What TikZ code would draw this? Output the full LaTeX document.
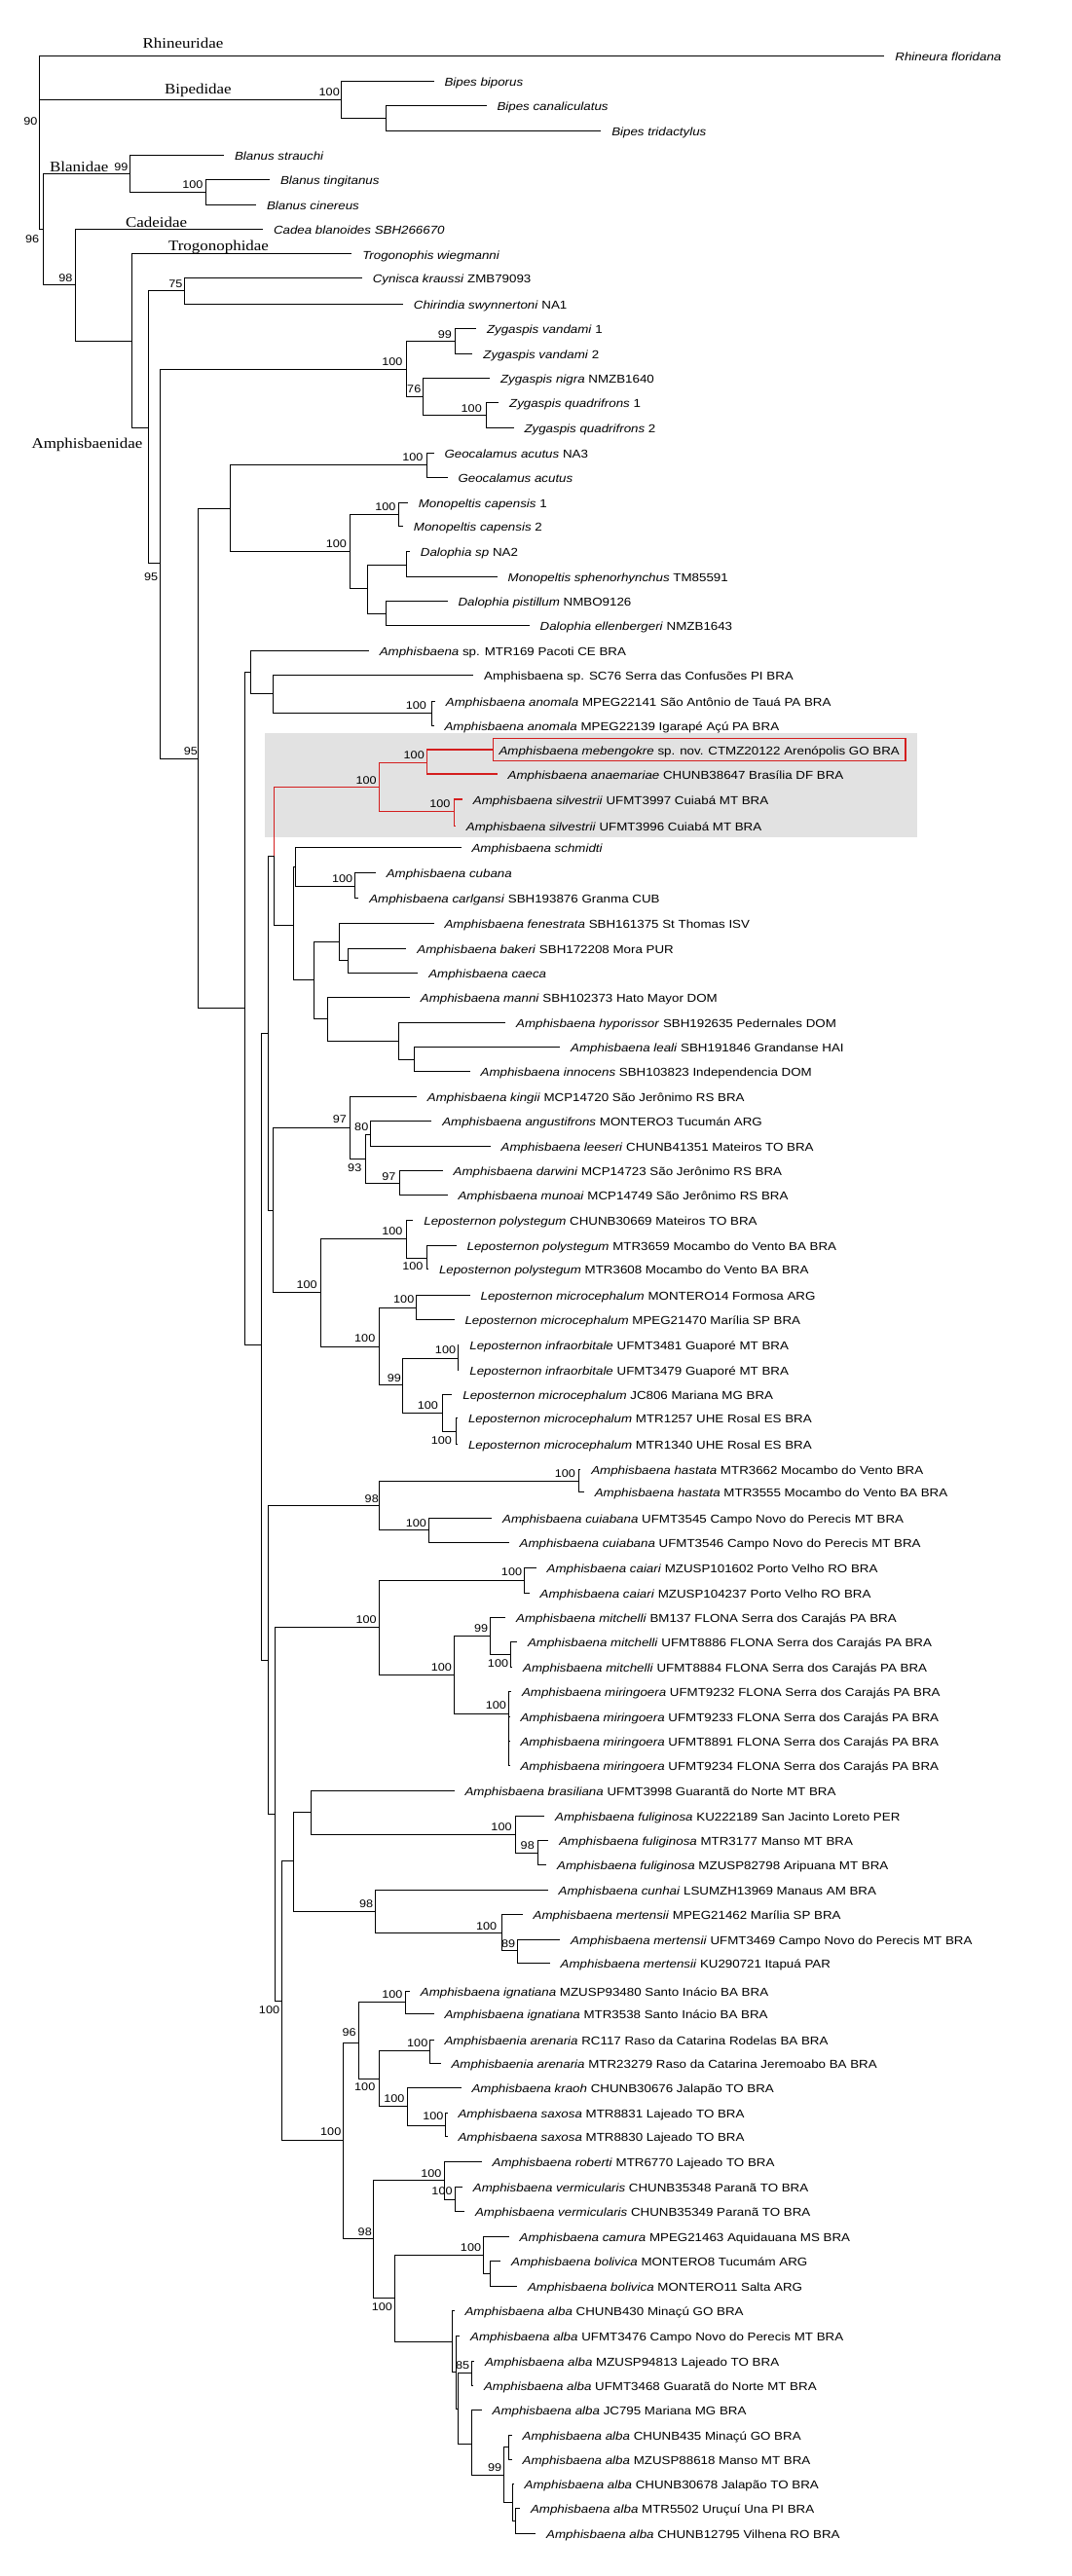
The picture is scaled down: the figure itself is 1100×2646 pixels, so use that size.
\documentclass[tikz,border=0pt]{standalone}
\usepackage{fontspec}
\setmainfont{Liberation Sans}[FakeStretch=1.13]
\newfontfamily\famfont{Liberation Serif}[FakeStretch=1.13]
\definecolor{cladered}{RGB}{212,30,30}
\definecolor{boxgray}{RGB}{226,226,226}
\tikzset{
  leaf/.style={anchor=west, inner sep=0pt, outer xsep=11pt, text height=10.5pt, text depth=0pt, font=\fontsize{11.8}{13}\selectfont},
  newsp/.style={draw=cladered, line width=1.3pt, inner xsep=6pt, inner ysep=6.25pt, outer xsep=0pt},
  boot/.style={anchor=east, inner sep=0pt, font=\fontsize{11.2}{12}\selectfont},
  family/.style={inner sep=0pt, text height=10pt, text depth=0pt, font=\famfont\fontsize{15}{16}\selectfont},
  clade/.style={draw=cladered, line width=1.3pt},
}
\begin{document}
\begin{tikzpicture}[x=1pt, y=-1pt, line width=1pt]
    \path[fill=white] (0,0) rectangle (1100,2646);
    \useasboundingbox (0,0) rectangle (1100,2646);

    % highlighted clade
    \fill[boxgray] (272.2,753.3) rectangle (942.1,860);

    % internal nodes
    \coordinate (root) at (40.7,147);
    \coordinate (bip) at (350.8,102.3);
    \coordinate (bip2) at (396.3,121.7);
    \coordinate (n96) at (44.2,236);
    \coordinate (blan) at (133.3,179);
    \coordinate (blan2) at (211.9,197.7);
    \coordinate (n98) at (77.2,292.7);
    \coordinate (trog) at (135.4,350);
    \coordinate (amph) at (152.9,439.3);
    \coordinate (n75) at (189.4,299);
    \coordinate (n95a) at (164.9,578.3);
    \coordinate (zyg) at (417.4,379);
    \coordinate (zyva) at (467.9,350.7);
    \coordinate (n76) at (434.9,407.7);
    \coordinate (zyqu) at (499.5,426.7);
    \coordinate (n95b) at (203.4,779);
    \coordinate (afr) at (236.4,522.7);
    \coordinate (geo) at (438.4,477.7);
    \coordinate (mono) at (359.2,566.7);
    \coordinate (moca) at (409,528.3);
    \coordinate (dal) at (377.4,604.3);
    \coordinate (dal1) at (417.4,580);
    \coordinate (dal2) at (396.3,630.7);
    \coordinate (n119) at (251.1,1035.7);
    \coordinate (n122) at (257.5,690.7);
    \coordinate (n133a) at (280.6,712.7);
    \coordinate (anom) at (443.4,732.3);
    \coordinate (n127) at (268.7,1381.7);
    \coordinate (n131) at (275.7,1061);
    \coordinate (n134) at (281.5,879);
    \coordinate (redcl) at (389.3,808.3);
    \coordinate (meb) at (438.4,783.3);
    \coordinate (silv) at (466.5,833.3);
    \coordinate (n143) at (301.6,950);
    \coordinate (n144) at (303.7,890.3);
    \coordinate (cub) at (364.8,910);
    \coordinate (carib) at (322.7,1006.7);
    \coordinate (car1) at (348.6,967.3);
    \coordinate (car2) at (357.8,986.7);
    \coordinate (car3) at (336.7,1046.7);
    \coordinate (car4) at (409,1069.3);
    \coordinate (car5) at (425.8,1088.3);
    \coordinate (n133b) at (280.6,1243.3);
    \coordinate (kin) at (359.2,1158.3);
    \coordinate (n93) at (375.3,1190);
    \coordinate (n80) at (380.9,1165);
    \coordinate (n97b) at (410.4,1215.7);
    \coordinate (lepo) at (329.7,1327.3);
    \coordinate (pol) at (417.4,1272.7);
    \coordinate (pol2) at (438.4,1292.7);
    \coordinate (mic) at (389.3,1383.3);
    \coordinate (mic1) at (427.9,1343.3);
    \coordinate (n99l) at (413.9,1422.7);
    \coordinate (inf) at (470,1395);
    \coordinate (jc) at (454.6,1451);
    \coordinate (ros) at (468.6,1470);
    \coordinate (n131b) at (275.7,1705);
    \coordinate (n98h) at (389.3,1546.7);
    \coordinate (hast) at (594.9,1521);
    \coordinate (cuia) at (440.5,1571.7);
    \coordinate (n134b) at (282.7,1863.3);
    \coordinate (cm) at (389.3,1671.7);
    \coordinate (caia) at (538.7,1623.3);
    \coordinate (mm) at (466.5,1720);
    \coordinate (mitc) at (503.7,1680);
    \coordinate (mitu) at (524.7,1699.3);
    \coordinate (miri) at (522.6,1760);
    \coordinate (n137) at (289.7,2055);
    \coordinate (n143b) at (301.6,1911.7);
    \coordinate (bras) at (319.2,1861.7);
    \coordinate (fuli) at (529.6,1884.3);
    \coordinate (ful98) at (552.1,1903.3);
    \coordinate (cun) at (385.8,1963.3);
    \coordinate (mert) at (515.6,1985);
    \coordinate (m89) at (531,2003.3);
    \coordinate (n353) at (352.9,2198.3);
    \coordinate (n96b) at (368.3,2098.3);
    \coordinate (ign) at (416,2056);
    \coordinate (ak) at (389.3,2135);
    \coordinate (are) at (441.9,2106);
    \coordinate (ks) at (418.8,2163.3);
    \coordinate (sax) at (457.4,2183.3);
    \coordinate (n98b) at (383.7,2299.3);
    \coordinate (rv) at (456,2239.3);
    \coordinate (ver) at (467.9,2259.3);
    \coordinate (ca) at (405.5,2360);
    \coordinate (cb) at (496.7,2316);
    \coordinate (bol) at (503.7,2335.5);
    \coordinate (albA) at (464.4,2405);
    \coordinate (albB) at (468.6,2436.7);
    \coordinate (albC) at (470.5,2474);
    \coordinate (albD) at (484,2437.5);
    \coordinate (albE) at (484,2510.5);
    \coordinate (albF) at (517.7,2542);
    \coordinate (albG) at (522.6,2513.5);
    \coordinate (albH) at (526.1,2570.7);
    \coordinate (albI) at (529.6,2589.7);

    % outgroups
    \node[leaf] (rhflo) at (908.4,57.7) {\textit{Rhineura floridana}};
    \node[leaf] (bibip) at (445.5,83.3) {\textit{Bipes biporus}};
    \node[leaf] (bican) at (499.5,108.3) {\textit{Bipes canaliculatus}};
    \node[leaf] (bitri) at (617.3,134.3) {\textit{Bipes tridactylus}};
    \node[leaf] (blstr) at (230,159.3) {\textit{Blanus strauchi}};
    \node[leaf] (bltin) at (277,184.3) {\textit{Blanus tingitanus}};
    \node[leaf] (blcin) at (263,210.3) {\textit{Blanus cinereus}};
    \node[leaf] (cabla) at (270,235.7) {\textit{Cadea blanoides SBH266670}};
    \node[leaf] (trwie) at (361.3,261) {\textit{Trogonophis wiegmanni}};
    \node[leaf] (cykra) at (371.8,285.7) {\textit{Cynisca kraussi} ZMB79093};
    \node[leaf] (chswy) at (413.9,312.3) {\textit{Chirindia swynnertoni} NA1};
    \node[leaf] (zyva1) at (489,337.3) {\textit{Zygaspis vandami} 1};
    \node[leaf] (zyva2) at (485.4,363.3) {\textit{Zygaspis vandami} 2};
    \node[leaf] (zynig) at (503,388.3) {\textit{Zygaspis nigra} NMZB1640};
    \node[leaf] (zyqu1) at (512.1,413.3) {\textit{Zygaspis quadrifrons} 1};
    \node[leaf] (zyqu2) at (527.5,439.3) {\textit{Zygaspis quadrifrons} 2};
    \node[leaf] (geac1) at (445.5,465) {\textit{Geocalamus acutus} NA3};
    \node[leaf] (geac2) at (459.5,490.7) {\textit{Geocalamus acutus}};
    \node[leaf] (moca1) at (418.8,516) {\textit{Monopeltis capensis} 1};
    \node[leaf] (moca2) at (413.9,540.7) {\textit{Monopeltis capensis} 2};
    \node[leaf] (dasp) at (420.9,566.7) {\textit{Dalophia sp} NA2};
    \node[leaf] (mosph) at (510.7,592.7) {\textit{Monopeltis sphenorhynchus} TM85591};
    \node[leaf] (dapis) at (459.5,617.7) {\textit{Dalophia pistillum} NMBO9126};
    \node[leaf] (daell) at (543.7,642.7) {\textit{Dalophia ellenbergeri} NMZB1643};

    % Amphisbaena
    \node[leaf] (amsp1) at (378.8,668.3) {\textit{Amphisbaena} sp. MTR169 Pacoti CE BRA};
    \node[leaf] (amsp2) at (486.1,693.3) {Amphisbaena sp. SC76 Serra das Confusões PI BRA};
    \node[leaf] (anom1) at (446.9,720) {\textit{Amphisbaena anomala} MPEG22141 São Antônio de Tauá PA BRA};
    \node[leaf] (anom2) at (445.5,745) {\textit{Amphisbaena anomala} MPEG22139 Igarapé Açú PA BRA};
    \node[leaf, newsp] (meben) at (506.5,770) {\textit{Amphisbaena mebengokre} sp. nov. CTMZ20122 Arenópolis GO BRA};
    \node[leaf] (anaem) at (510.7,795) {\textit{Amphisbaena anaemariae} CHUNB38647 Brasília DF BRA};
    \node[leaf] (silv1) at (474.9,821) {\textit{Amphisbaena silvestrii} UFMT3997 Cuiabá MT BRA};
    \node[leaf] (silv2) at (467.9,848.3) {\textit{Amphisbaena silvestrii} UFMT3996 Cuiabá MT BRA};
    \node[leaf] (schmi) at (473.5,870.7) {\textit{Amphisbaena schmidti}};
    \node[leaf] (cuban) at (385.8,896.7) {\textit{Amphisbaena cubana}};
    \node[leaf] (carlg) at (368.3,922.3) {\textit{Amphisbaena carlgansi} SBH193876 Granma CUB};
    \node[leaf] (fenes) at (445.5,948.3) {\textit{Amphisbaena fenestrata} SBH161375 St Thomas ISV};
    \node[leaf] (baker) at (417.4,974.3) {\textit{Amphisbaena bakeri} SBH172208 Mora PUR};
    \node[leaf] (caeca) at (429.3,999) {\textit{Amphisbaena caeca}};
    \node[leaf] (manni) at (420.9,1024.3) {\textit{Amphisbaena manni} SBH102373 Hato Mayor DOM};
    \node[leaf] (hypor) at (519.1,1050) {\textit{Amphisbaena hyporissor} SBH192635 Pedernales DOM};
    \node[leaf] (leali) at (575.2,1075.7) {\textit{Amphisbaena leali} SBH191846 Grandanse HAI};
    \node[leaf] (innoc) at (482.6,1100) {\textit{Amphisbaena innocens} SBH103823 Independencia DOM};
    \node[leaf] (kingi) at (427.9,1126) {\textit{Amphisbaena kingii} MCP14720 São Jerônimo RS BRA};
    \node[leaf] (angus) at (443.3,1151.7) {\textit{Amphisbaena angustifrons} MONTERO3 Tucumán ARG};
    \node[leaf] (leese) at (503.7,1177.3) {\textit{Amphisbaena leeseri} CHUNB41351 Mateiros TO BRA};
    \node[leaf] (darwi) at (454.6,1202.7) {\textit{Amphisbaena darwini} MCP14723 São Jerônimo RS BRA};
    \node[leaf] (munoa) at (459.5,1227.7) {\textit{Amphisbaena munoai} MCP14749 São Jerônimo RS BRA};
    \node[leaf] (lpol1) at (424.4,1253.3) {\textit{Leposternon polystegum} CHUNB30669 Mateiros TO BRA};
    \node[leaf] (lpol2) at (468.6,1279.3) {\textit{Leposternon polystegum} MTR3659 Mocambo do Vento BA BRA};
    \node[leaf] (lpol3) at (440,1303.3) {\textit{Leposternon polystegum} MTR3608 Mocambo do Vento BA BRA};
    \node[leaf] (lmic1) at (482.6,1330) {\textit{Leposternon microcephalum} MONTERO14 Formosa ARG};
    \node[leaf] (lmic2) at (466.5,1355) {\textit{Leposternon microcephalum} MPEG21470 Marília SP BRA};
    \node[leaf] (linf1) at (471.4,1381.7) {\textit{Leposternon infraorbitale} UFMT3481 Guaporé MT BRA};
    \node[leaf] (linf2) at (471.4,1407.3) {\textit{Leposternon infraorbitale} UFMT3479 Guaporé MT BRA};
    \node[leaf] (lmic3) at (464.4,1432.7) {\textit{Leposternon microcephalum} JC806 Mariana MG BRA};
    \node[leaf] (lmic4) at (470,1456.7) {\textit{Leposternon microcephalum} MTR1257 UHE Rosal ES BRA};
    \node[leaf] (lmic5) at (470,1483.3) {\textit{Leposternon microcephalum} MTR1340 UHE Rosal ES BRA};
    \node[leaf] (hast1) at (596.3,1509) {\textit{Amphisbaena hastata} MTR3662 Mocambo do Vento BRA};
    \node[leaf] (hast2) at (599.8,1532.3) {\textit{Amphisbaena hastata} MTR3555 Mocambo do Vento BA BRA};
    \node[leaf] (cuia1) at (505.1,1559.3) {\textit{Amphisbaena cuiabana} UFMT3545 Campo Novo do Perecis MT BRA};
    \node[leaf] (cuia2) at (522.6,1584.3) {\textit{Amphisbaena cuiabana} UFMT3546 Campo Novo do Perecis MT BRA};
    \node[leaf] (caia1) at (550.7,1610) {\textit{Amphisbaena caiari} MZUSP101602 Porto Velho RO BRA};
    \node[leaf] (caia2) at (543.7,1636) {\textit{Amphisbaena caiari} MZUSP104237 Porto Velho RO BRA};
    \node[leaf] (mitc1) at (519.1,1661.7) {\textit{Amphisbaena mitchelli} BM137 FLONA Serra dos Carajás PA BRA};
    \node[leaf] (mitc2) at (531,1686.7) {\textit{Amphisbaena mitchelli} UFMT8886 FLONA Serra dos Carajás PA BRA};
    \node[leaf] (mitc3) at (526.1,1712.3) {\textit{Amphisbaena mitchelli} UFMT8884 FLONA Serra dos Carajás PA BRA};
    \node[leaf] (miri1) at (525,1737.3) {\textit{Amphisbaena miringoera} UFMT9232 FLONA Serra dos Carajás PA BRA};
    \node[leaf] (miri2) at (523.5,1763.3) {\textit{Amphisbaena miringoera} UFMT9233 FLONA Serra dos Carajás PA BRA};
    \node[leaf] (miri3) at (523.5,1788.3) {\textit{Amphisbaena miringoera} UFMT8891 FLONA Serra dos Carajás PA BRA};
    \node[leaf] (miri4) at (523.5,1813.3) {\textit{Amphisbaena miringoera} UFMT9234 FLONA Serra dos Carajás PA BRA};
    \node[leaf] (brasi) at (466.5,1839.3) {\textit{Amphisbaena brasiliana} UFMT3998 Guarantã do Norte MT BRA};
    \node[leaf] (fuli1) at (559.1,1865) {\textit{Amphisbaena fuliginosa} KU222189 San Jacinto Loreto PER};
    \node[leaf] (fuli2) at (563.3,1890) {\textit{Amphisbaena fuliginosa} MTR3177 Manso MT BRA};
    \node[leaf] (fuli3) at (561.2,1915) {\textit{Amphisbaena fuliginosa} MZUSP82798 Aripuana MT BRA};
    \node[leaf] (cunha) at (562.6,1941) {\textit{Amphisbaena cunhai} LSUMZH13969 Manaus AM BRA};
    \node[leaf] (mert1) at (536.6,1966.7) {\textit{Amphisbaena mertensii} MPEG21462 Marília SP BRA};
    \node[leaf] (mert2) at (575.2,1992.7) {\textit{Amphisbaena mertensii} UFMT3469 Campo Novo do Perecis MT BRA};
    \node[leaf] (mert3) at (564.7,2016.7) {\textit{Amphisbaena mertensii} KU290721 Itapuá PAR};
    \node[leaf] (igna1) at (420.9,2045) {\textit{Amphisbaena ignatiana} MZUSP93480 Santo Inácio BA BRA};
    \node[leaf] (igna2) at (445.5,2068.3) {\textit{Amphisbaena ignatiana} MTR3538 Santo Inácio BA BRA};
    \node[leaf] (aren1) at (445.5,2095) {\textit{Amphisbaenia arenaria} RC117 Raso da Catarina Rodelas BA BRA};
    \node[leaf] (aren2) at (452.5,2119.3) {\textit{Amphisbaenia arenaria} MTR23279 Raso da Catarina Jeremoabo BA BRA};
    \node[leaf] (kraoh) at (473.5,2144.3) {\textit{Amphisbaena kraoh} CHUNB30676 Jalapão TO BRA};
    \node[leaf] (saxo1) at (459.5,2170) {\textit{Amphisbaena saxosa} MTR8831 Lajeado TO BRA};
    \node[leaf] (saxo2) at (459.5,2194.3) {\textit{Amphisbaena saxosa} MTR8830 Lajeado TO BRA};
    \node[leaf] (rober) at (494.6,2220.7) {\textit{Amphisbaena roberti} MTR6770 Lajeado TO BRA};
    \node[leaf] (verm1) at (474.9,2246.7) {\textit{Amphisbaena vermicularis} CHUNB35348 Paranã TO BRA};
    \node[leaf] (verm2) at (477,2271.7) {\textit{Amphisbaena vermicularis} CHUNB35349 Paranã TO BRA};
    \node[leaf] (camur) at (522.6,2297.3) {\textit{Amphisbaena camura} MPEG21463 Aquidauana MS BRA};
    \node[leaf] (boli1) at (514.2,2322.7) {\textit{Amphisbaena bolivica} MONTERO8 Tucumám ARG};
    \node[leaf] (boli2) at (531,2348.3) {\textit{Amphisbaena bolivica} MONTERO11 Salta ARG};
    \node[leaf] (alba1) at (466.5,2373.3) {\textit{Amphisbaena alba} CHUNB430 Minaçú GO BRA};
    \node[leaf] (alba2) at (472.1,2399.3) {\textit{Amphisbaena alba} UFMT3476 Campo Novo do Perecis MT BRA};
    \node[leaf] (alba3) at (487,2425) {\textit{Amphisbaena alba} MZUSP94813 Lajeado TO BRA};
    \node[leaf] (alba4) at (486,2450) {\textit{Amphisbaena alba} UFMT3468 Guaratã do Norte MT BRA};
    \node[leaf] (alba5) at (494.6,2475) {\textit{Amphisbaena alba} JC795 Mariana MG BRA};
    \node[leaf] (alba6) at (525.6,2501) {\textit{Amphisbaena alba} CHUNB435 Minaçú GO BRA};
    \node[leaf] (alba7) at (525.6,2526) {\textit{Amphisbaena alba} MZUSP88618 Manso MT BRA};
    \node[leaf] (alba8) at (527.7,2551.7) {\textit{Amphisbaena alba} CHUNB30678 Jalapão TO BRA};
    \node[leaf] (alba9) at (534,2576.7) {\textit{Amphisbaena alba} MTR5502 Uruçuí Una PI BRA};
    \node[leaf] (alba10) at (550.2,2602.7) {\textit{Amphisbaena alba} CHUNB12795 Vilhena RO BRA};

    % families
    \node[family] (fRhin) at (188,45) {Rhineuridae};
    \node[family] (fBipe) at (203.4,91.7) {Bipedidae};
    \node[family] (fBlan) at (81.3,171.7) {Blanidae};
    \node[family] (fCade) at (160.6,228.3) {Cadeidae};
    \node[family] (fTrog) at (224.5,252.3) {Trogonophidae};
    \node[family] (fAmph) at (89.5,455) {Amphisbaenidae};

    % branches
    \draw (root) |- (rhflo.west) (root) |- (bip) (root) |- (n96);
    \draw (bip) |- (bibip.west) (bip) |- (bip2);
    \draw (bip2) |- (bican.west) (bip2) |- (bitri.west);
    \draw (n96) |- (blan) (n96) |- (n98);
    \draw (blan) |- (blstr.west) (blan) |- (blan2);
    \draw (blan2) |- (bltin.west) (blan2) |- (blcin.west);
    \draw (n98) |- (cabla.west) (n98) |- (trog);
    \draw (trog) |- (trwie.west) (trog) |- (amph);
    \draw (amph) |- (n75) (amph) |- (n95a);
    \draw (n75) |- (cykra.west) (n75) |- (chswy.west);
    \draw (n95a) |- (zyg) (n95a) |- (n95b);
    \draw (zyg) |- (zyva) (zyg) |- (n76);
    \draw (zyva) |- (zyva1.west) (zyva) |- (zyva2.west);
    \draw (n76) |- (zynig.west) (n76) |- (zyqu);
    \draw (zyqu) |- (zyqu1.west) (zyqu) |- (zyqu2.west);
    \draw (n95b) |- (afr) (n95b) |- (n119);
    \draw (afr) |- (geo) (afr) |- (mono);
    \draw (geo) |- (geac1.west) (geo) |- (geac2.west);
    \draw (mono) |- (moca) (mono) |- (dal);
    \draw (moca) |- (moca1.west) (moca) |- (moca2.west);
    \draw (dal) |- (dal1) (dal) |- (dal2);
    \draw (dal1) |- (dasp.west) (dal1) |- (mosph.west);
    \draw (dal2) |- (dapis.west) (dal2) |- (daell.west);
    \draw (n119) |- (n122) (n119) |- (n127);
    \draw (n122) |- (amsp1.west) (n122) |- (n133a);
    \draw (n133a) |- (amsp2.west) (n133a) |- (anom);
    \draw (anom) |- (anom1.west) (anom) |- (anom2.west);
    \draw (n127) |- (n131) (n127) |- (n131b);
    \draw (n131) |- (n134) (n131) |- (n133b);

    % new species clade
    \draw[clade] (n134) |- (redcl);
    \draw[clade] (redcl) |- (meb) (redcl) |- (silv);
    \draw[clade] (meb) |- (meben.west) (meb) |- (anaem.west);
    \draw[clade] (silv) |- (silv1.west) (silv) |- (silv2.west);

    \draw (n134) |- (n143);
    \draw (n143) |- (n144) (n143) |- (carib);
    \draw (n144) |- (schmi.west) (n144) |- (cub);
    \draw (cub) |- (cuban.west) (cub) |- (carlg.west);
    \draw (carib) |- (car1) (carib) |- (car3);
    \draw (car1) |- (fenes.west) (car1) |- (car2);
    \draw (car2) |- (baker.west) (car2) |- (caeca.west);
    \draw (car3) |- (manni.west) (car3) |- (car4);
    \draw (car4) |- (hypor.west) (car4) |- (car5);
    \draw (car5) |- (leali.west) (car5) |- (innoc.west);
    \draw (n133b) |- (kin) (n133b) |- (lepo);
    \draw (kin) |- (kingi.west) (kin) |- (n93);
    \draw (n93) |- (n80) (n93) |- (n97b);
    \draw (n80) |- (angus.west) (n80) |- (leese.west);
    \draw (n97b) |- (darwi.west) (n97b) |- (munoa.west);
    \draw (lepo) |- (pol) (lepo) |- (mic);
    \draw (pol) |- (lpol1.west) (pol) |- (pol2);
    \draw (pol2) |- (lpol2.west) (pol2) |- (lpol3.west);
    \draw (mic) |- (mic1) (mic) |- (n99l);
    \draw (mic1) |- (lmic1.west) (mic1) |- (lmic2.west);
    \draw (n99l) |- (inf) (n99l) |- (jc);
    \draw (inf) |- (linf1.west) (inf) |- (linf2.west);
    \draw (jc) |- (lmic3.west) (jc) |- (ros);
    \draw (ros) |- (lmic4.west) (ros) |- (lmic5.west);
    \draw (n131b) |- (n98h) (n131b) |- (n134b);
    \draw (n98h) |- (hast) (n98h) |- (cuia);
    \draw (hast) |- (hast1.west) (hast) |- (hast2.west);
    \draw (cuia) |- (cuia1.west) (cuia) |- (cuia2.west);
    \draw (n134b) |- (cm) (n134b) |- (n137);
    \draw (cm) |- (caia) (cm) |- (mm);
    \draw (caia) |- (caia1.west) (caia) |- (caia2.west);
    \draw (mm) |- (mitc) (mm) |- (miri);
    \draw (mitc) |- (mitc1.west) (mitc) |- (mitu);
    \draw (mitu) |- (mitc2.west) (mitu) |- (mitc3.west);
    \draw (miri) |- (miri1.west) (miri) |- (miri2.west) (miri) |- (miri3.west) (miri) |- (miri4.west);
    \draw (n137) |- (n143b) (n137) |- (n353);
    \draw (n143b) |- (bras) (n143b) |- (cun);
    \draw (bras) |- (brasi.west) (bras) |- (fuli);
    \draw (fuli) |- (fuli1.west) (fuli) |- (ful98);
    \draw (ful98) |- (fuli2.west) (ful98) |- (fuli3.west);
    \draw (cun) |- (cunha.west) (cun) |- (mert);
    \draw (mert) |- (mert1.west) (mert) |- (m89);
    \draw (m89) |- (mert2.west) (m89) |- (mert3.west);
    \draw (n353) |- (n96b) (n353) |- (n98b);
    \draw (n96b) |- (ign) (n96b) |- (ak);
    \draw (ign) |- (igna1.west) (ign) |- (igna2.west);
    \draw (ak) |- (are) (ak) |- (ks);
    \draw (are) |- (aren1.west) (are) |- (aren2.west);
    \draw (ks) |- (kraoh.west) (ks) |- (sax);
    \draw (sax) |- (saxo1.west) (sax) |- (saxo2.west);
    \draw (n98b) |- (rv) (n98b) |- (ca);
    \draw (rv) |- (rober.west) (rv) |- (ver);
    \draw (ver) |- (verm1.west) (ver) |- (verm2.west);
    \draw (ca) |- (cb) (ca) |- (albA);
    \draw (cb) |- (camur.west) (cb) |- (bol);
    \draw (bol) |- (boli1.west) (bol) |- (boli2.west);
    \draw (albA) |- (alba1.west) (albA) |- (albB);
    \draw (albB) |- (alba2.west) (albB) |- (albC);
    \draw (albC) |- (albD) (albC) |- (albE);
    \draw (albD) |- (alba3.west) (albD) |- (alba4.west);
    \draw (albE) |- (alba5.west) (albE) |- (albF);
    \draw (albF) |- (albG) (albF) |- (albH);
    \draw (albG) |- (alba6.west) (albG) |- (alba7.west);
    \draw (albH) |- (alba8.west) (albH) |- (albI);
    \draw (albI) |- (alba9.west) (albI) |- (alba10.west);

    % bootstrap values
    \node[boot] (bs01) at (39,124.3) {90};
    \node[boot] (bs02) at (349.3,95) {100};
    \node[boot] (bs03) at (132,172) {99};
    \node[boot] (bs04) at (209,190) {100};
    \node[boot] (bs05) at (40.7,246) {96};
    \node[boot] (bs06) at (75,286) {98};
    \node[boot] (bs07) at (188,291.7) {75};
    \node[boot] (bs08) at (413.9,371.7) {100};
    \node[boot] (bs09) at (464.4,344) {99};
    \node[boot] (bs10) at (432.8,400) {76};
    \node[boot] (bs11) at (495.3,419.3) {100};
    \node[boot] (bs12) at (162.7,592.7) {95};
    \node[boot] (bs13) at (203.4,771.7) {95};
    \node[boot] (bs14) at (434.9,470) {100};
    \node[boot] (bs15) at (356.4,559) {100};
    \node[boot] (bs16) at (406.9,520.7) {100};
    \node[boot] (bs17) at (438.4,724.3) {100};
    \node[boot] (bs18) at (387.2,801.7) {100};
    \node[boot] (bs19) at (436.3,775.7) {100};
    \node[boot] (bs20) at (463,825.7) {100};
    \node[boot] (bs21) at (362.7,902.7) {100};
    \node[boot] (bs22) at (356.4,1150) {97};
    \node[boot] (bs23) at (371.8,1199.3) {93};
    \node[boot] (bs24) at (378.8,1157.3) {80};
    \node[boot] (bs25) at (406.9,1208.3) {97};
    \node[boot] (bs26) at (413.9,1265) {100};
    \node[boot] (bs27) at (434.9,1300.7) {100};
    \node[boot] (bs28) at (326.2,1320) {100};
    \node[boot] (bs29) at (385.8,1375) {100};
    \node[boot] (bs30) at (425.8,1335) {100};
    \node[boot] (bs31) at (468.6,1386.7) {100};
    \node[boot] (bs32) at (412.5,1416) {99};
    \node[boot] (bs33) at (450.4,1443.3) {100};
    \node[boot] (bs34) at (464.4,1480) {100};
    \node[boot] (bs35) at (591.4,1513.3) {100};
    \node[boot] (bs36) at (389.3,1540) {98};
    \node[boot] (bs37) at (438.4,1565) {100};
    \node[boot] (bs38) at (536.6,1615) {100};
    \node[boot] (bs39) at (387.2,1664) {100};
    \node[boot] (bs40) at (464.4,1712.7) {100};
    \node[boot] (bs41) at (501.6,1672.7) {99};
    \node[boot] (bs42) at (522.6,1708.3) {100};
    \node[boot] (bs43) at (520.5,1751.7) {100};
    \node[boot] (bs44) at (526.1,1876.7) {100};
    \node[boot] (bs45) at (549.3,1895.7) {98};
    \node[boot] (bs46) at (383.7,1956) {98};
    \node[boot] (bs47) at (510.7,1979) {100};
    \node[boot] (bs48) at (529.6,1997) {89};
    \node[boot] (bs49) at (287.6,2065) {100};
    \node[boot] (bs50) at (413.9,2048.3) {100};
    \node[boot] (bs51) at (366.2,2087.3) {96};
    \node[boot] (bs52) at (439.8,2099) {100};
    \node[boot] (bs53) at (385.8,2143.3) {100};
    \node[boot] (bs54) at (416,2155.7) {100};
    \node[boot] (bs55) at (456,2174) {100};
    \node[boot] (bs56) at (350.8,2190) {100};
    \node[boot] (bs57) at (453.9,2232.3) {100};
    \node[boot] (bs58) at (465.1,2250.7) {100};
    \node[boot] (bs59) at (382.3,2292.7) {98};
    \node[boot] (bs60) at (494.6,2308.3) {100};
    \node[boot] (bs61) at (403.4,2370) {100};
    \node[boot] (bs62) at (482.6,2430) {85};
    \node[boot] (bs63) at (515.6,2535) {99};
\end{tikzpicture}
\end{document}
